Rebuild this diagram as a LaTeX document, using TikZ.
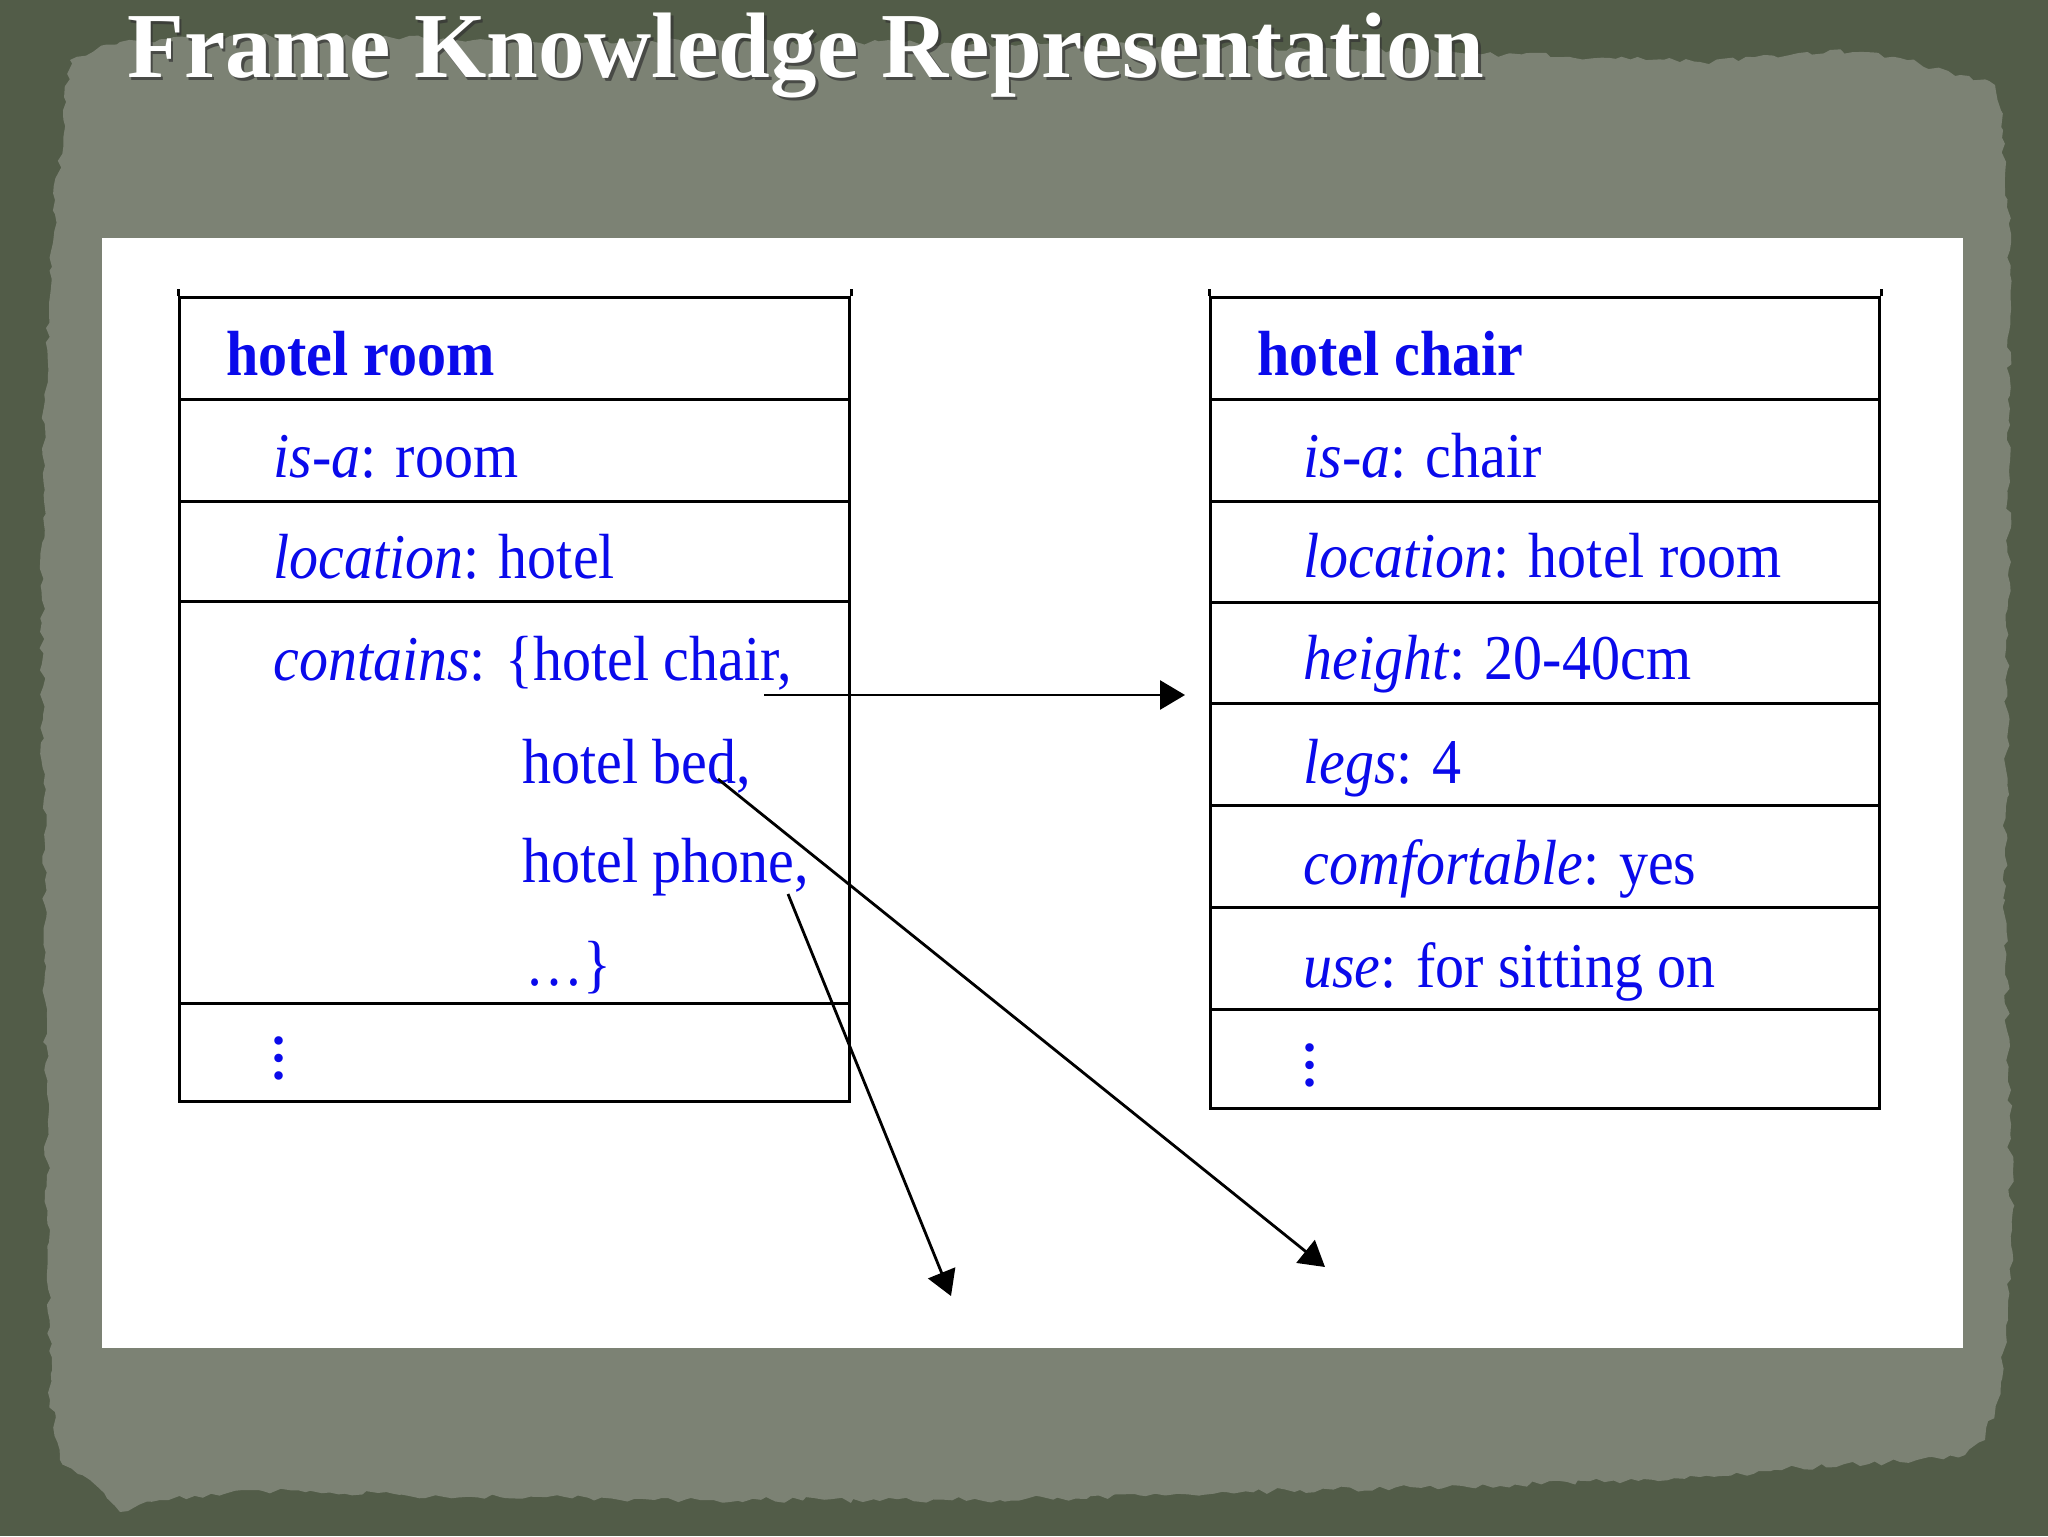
\documentclass[tikz,border=0pt]{standalone}
\usepackage{fontspec}
\setmainfont{Liberation Serif}
\usetikzlibrary{arrows.meta,decorations.pathmorphing}
\definecolor{bgdark}{RGB}{82,92,72}
\definecolor{bglight}{RGB}{124,130,116}
\definecolor{slotblue}{RGB}{10,10,235}
\newcommand{\vs}[1]{\scalebox{1}[1.1]{#1}}
\pgfmathsetseed{7}
\begin{document}
\begin{tikzpicture}[x=0.5pt,y=-0.5pt,
  rowbox/.style={draw=black, line width=1.5pt, inner sep=0pt, anchor=north west, minimum width=335pt},
  slot/.style={anchor=base west, inner sep=0pt, text=slotblue, font=\fontsize{29pt}{34pt}\selectfont},
  fname/.style={anchor=base west, inner sep=0pt, text=slotblue, font=\fontsize{29pt}{34pt}\selectfont\bfseries},
  morenode/.style={inner sep=0pt, text=slotblue, font=\fontsize{26pt}{30pt}\selectfont\bfseries},
  link/.style={line width=1.4pt, -{Triangle[length=12.5pt,width=14.5pt]}},
  titlefont/.style={anchor=base west, inner sep=0pt, font=\fontsize{46.5pt}{56pt}\selectfont\bfseries}
]
\useasboundingbox (0,0) rectangle (2048,1536);
% background
\fill[bgdark] (0,0) rectangle (2048,1536);
\fill[bglight, decorate, decoration={random steps,segment length=4pt,amplitude=1.5pt}]
  (70,60) -- (120,42) -- (250,36) -- (500,40) -- (800,42) -- (1100,45) -- (1400,50) -- (1700,62)
  -- (1790,55) -- (1830,50) -- (1900,58) -- (1960,75) -- (1995,85) -- (2003,130) -- (2010,250)
  -- (2008,600) -- (2005,900) -- (2012,1230) -- (2008,1320) -- (1998,1400) -- (1985,1440)
  -- (1965,1455) -- (1900,1462) -- (1800,1468) -- (1700,1477) -- (1500,1486) -- (1300,1490)
  -- (1000,1500) -- (700,1500) -- (400,1495) -- (250,1490) -- (160,1500) -- (120,1512)
  -- (90,1480) -- (60,1460) -- (50,1400) -- (45,1000) -- (42,600) -- (45,400) -- (55,200) -- cycle;
% title
\node[titlefont, text=black!80, opacity=0.7] (titleshadow) at (129.5,80.5) {Frame Knowledge Representation};
\node[titlefont, text=white] (title) at (127,78) {Frame Knowledge Representation};
% white panel
\fill[white] (102,238) rectangle (1963,1348);

% left frame: hotel room
\node[rowbox, minimum height=51pt] (hrA) at (178,296) {};
\node[rowbox, minimum height=51pt] (hrB) at (178,398) {};
\node[rowbox, minimum height=50pt] (hrC) at (178,500) {};
\node[rowbox, minimum height=201pt] (hrD) at (178,600) {};
\node[rowbox, minimum height=49pt] (hrE) at (178,1002) {};
\draw[line width=1.5pt] (hrA.north west) -- ++(0,-7) (hrA.north east) -- ++(0,-7);

\node[fname] (hrname) at (226,375) {\vs{hotel room}};
\node[slot] (hrisa) at (273,477) {\vs{\textit{is-a}: room}};
\node[slot] (hrloc) at (273,578) {\vs{\textit{location}: hotel}};
\node[slot] (hrcont) at (273,680) {\vs{\textit{contains}: \{hotel chair,}};
\node[slot] (hrbed) at (522,783) {\vs{hotel bed,}};
\node[slot] (hrphone) at (522,882) {\vs{hotel phone,}};
\node[slot] (hrdots) at (525,985) {\vs{…\}}};
\node[morenode] (hrmore) at (279,1058) {\rotatebox{90}{…}};

% right frame: hotel chair
\node[rowbox, minimum width=334.5pt, minimum height=51pt] (hcA) at (1209,296) {};
\node[rowbox, minimum width=334.5pt, minimum height=51pt] (hcB) at (1209,398) {};
\node[rowbox, minimum width=334.5pt, minimum height=50.5pt] (hcC) at (1209,500) {};
\node[rowbox, minimum width=334.5pt, minimum height=50.5pt] (hcD) at (1209,601) {};
\node[rowbox, minimum width=334.5pt, minimum height=51pt] (hcE) at (1209,702) {};
\node[rowbox, minimum width=334.5pt, minimum height=51pt] (hcF) at (1209,804) {};
\node[rowbox, minimum width=334.5pt, minimum height=51pt] (hcG) at (1209,906) {};
\node[rowbox, minimum width=334.5pt, minimum height=49.5pt] (hcH) at (1209,1008) {};
\draw[line width=1.5pt] (hcA.north west) -- ++(0,-7) (hcA.north east) -- ++(0,-7);

\node[fname] (hcname) at (1257,375) {\vs{hotel chair}};
\node[slot] (hcisa) at (1303,477) {\vs{\textit{is-a}: chair}};
\node[slot] (hcloc) at (1303,577) {\vs{\textit{location}: hotel room}};
\node[slot] (hcheight) at (1303,679) {\vs{\textit{height}: 20-40cm}};
\node[slot] (hclegs) at (1303,783) {\vs{\textit{legs}: 4}};
\node[slot] (hccomf) at (1303,884) {\vs{\textit{comfortable}: yes}};
\node[slot] (hcuse) at (1303,987) {\vs{\textit{use}: for sitting on}};
\node[morenode] (hcmore) at (1310,1065) {\rotatebox{90}{…}};

% connectors
\coordinate (chairref) at (764,695);
\coordinate (chairend) at (1185,695);
\coordinate (bedref) at (718,779);
\coordinate (bedend) at (1325,1267);
\coordinate (phoneref) at (788,894);
\coordinate (phoneend) at (951,1296);
\draw[link] (chairref) -- (chairend);
\draw[link] (bedref) -- (bedend);
\draw[link] (phoneref) -- (phoneend);
\end{tikzpicture}
\end{document}
